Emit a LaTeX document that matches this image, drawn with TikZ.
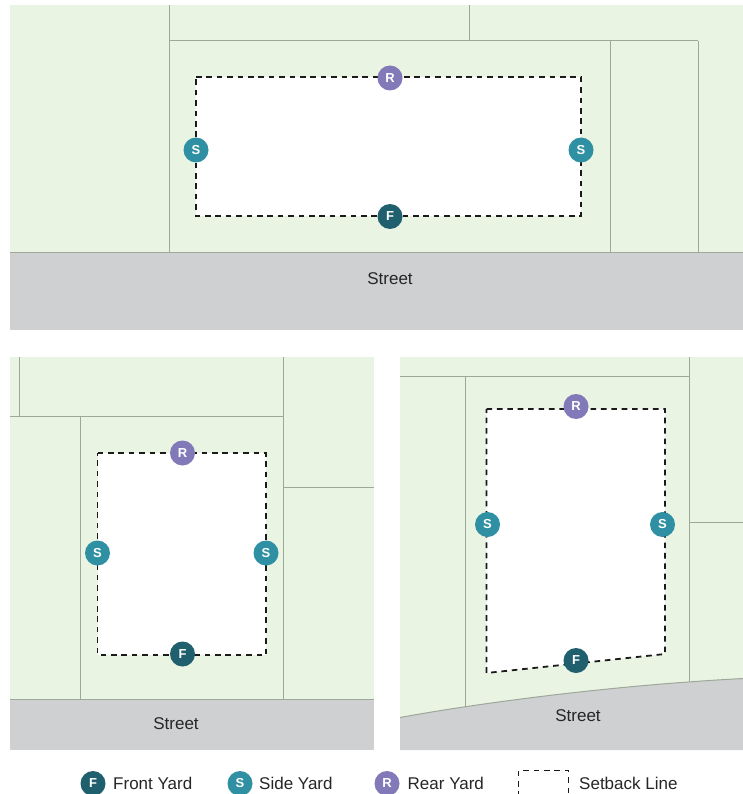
\documentclass[tikz,border=0pt]{standalone}
\usepackage{fontspec}
\setmainfont{Liberation Sans}
\definecolor{lotgreen}{HTML}{E9F4E3}
\definecolor{lotline}{HTML}{9DA89A}
\definecolor{streetgray}{HTML}{CFD0D2}
\definecolor{frontc}{HTML}{1F5F6E}
\definecolor{sidec}{HTML}{2F90A3}
\definecolor{rearc}{HTML}{8279B9}
\definecolor{setbackc}{HTML}{1A1A1A}
\tikzset{
  lot/.style={fill=lotgreen,draw=none},
  street/.style={fill=streetgray,draw=none},
  lotedge/.style={draw=lotline,line width=1pt},
  setbackfill/.style={fill=white,draw=none},
  setback/.style={draw=setbackc,line width=1.8pt,dash pattern=on 5.6pt off 4.8pt,line cap=butt,line join=miter},
  marker/.style={circle,minimum size=25pt,inner sep=0pt,text=white,font=\fontsize{13}{13}\selectfont\bfseries},
  fm/.style={marker,fill=frontc},
  sm/.style={marker,fill=sidec},
  rm/.style={marker,fill=rearc},
  streetlabel/.style={font=\fontsize{17}{17}\selectfont,text=black!85},
  legendlabel/.style={font=\fontsize{17}{17}\selectfont,text=black!85,anchor=west,inner sep=0pt}
}
\begin{document}
\begin{tikzpicture}[x=1pt,y=-1pt]
\useasboundingbox (0,0) rectangle (743,794);
% Panel 1
\fill[lot] (10,5) rectangle (743,252);
\fill[street] (10,252) rectangle (743,330);
\draw[lotedge] (169,5) -- (169,252);
\draw[lotedge] (469,5) -- (469,41);
\draw[lotedge] (169,41) -- (698,41);
\draw[lotedge] (610,41) -- (610,252);
\draw[lotedge] (698,41) -- (698,252);
\draw[lotedge,line width=1.2pt] (10,252.5) -- (743,252.5);
\fill[setbackfill] (196,77) rectangle (581,216);
\draw[setback] (196,77) -- (581,77) -- (581,216) -- (196,216) -- cycle;
\node[rm] (r1) at (390,78) {R};
\node[sm] (s1a) at (196,150) {S};
\node[sm] (s1b) at (581,150) {S};
\node[fm] (f1) at (390,216.5) {F};
\node[streetlabel] (st1) at (390,279) {Street};
% Panel 2
\fill[lot] (10,357) rectangle (374,699);
\fill[street] (10,699) rectangle (374,750);
\draw[lotedge] (19,357) -- (19,416.5);
\draw[lotedge] (10,416.5) -- (283,416.5);
\draw[lotedge] (283,357) -- (283,699);
\draw[lotedge] (80,416.5) -- (80,699);
\draw[lotedge] (283,487.5) -- (374,487.5);
\draw[lotedge] (10,699) -- (374,699);
\fill[setbackfill] (97.5,453) rectangle (266,655);
\draw[setback] (97.5,453) -- (266,453) -- (266,655) -- (97.5,655) -- cycle;
\node[rm] (r2) at (182.5,453) {R};
\node[sm] (s2a) at (97.5,553) {S};
\node[sm] (s2b) at (266,553) {S};
\node[fm] (f2) at (182.5,654) {F};
\node[streetlabel] (st2) at (176,724) {Street};
% Panel 3
\fill[lot] (400,357) rectangle (743,720);
\fill[street] (400,717.5) .. controls (465,705.5) and (600,686) .. (743,678.5) -- (743,750) -- (400,750) -- cycle;
\draw[lotedge] (400,717.5) .. controls (465,705.5) and (600,686) .. (743,678.5);
\draw[lotedge] (400,376) -- (689,376);
\draw[lotedge] (689,357) -- (689,681);
\draw[lotedge] (465.5,376) -- (465.5,706);
\draw[lotedge] (689,522) -- (743,522);
\fill[setbackfill] (486.5,409) -- (665,409) -- (665,654) -- (486.5,673) -- cycle;
\draw[setback] (486.5,409) -- (665,409) -- (665,654) -- (486.5,673) -- cycle;
\node[rm] (r3) at (576,406.5) {R};
\node[sm] (s3a) at (487.5,524.5) {S};
\node[sm] (s3b) at (662.5,524.5) {S};
\node[fm] (f3) at (576,660.5) {F};
\node[streetlabel] (st3) at (578,716) {Street};
% Legend
\node[fm] (lf) at (93,783.5) {F};
\node[legendlabel] (tf) at (113,783.5) {Front Yard};
\node[sm] (ls) at (240,783.5) {S};
\node[legendlabel] (ts) at (259,783.5) {Side Yard};
\node[rm] (lr) at (387,783.5) {R};
\node[legendlabel] (tr) at (407.5,783.5) {Rear Yard};
\draw[setback] (518.5,797) -- (518.5,770.5) -- (568.5,770.5) -- (568.5,797);
\node[legendlabel] (tb) at (579,783.5) {Setback Line};
\end{tikzpicture}
\end{document}
